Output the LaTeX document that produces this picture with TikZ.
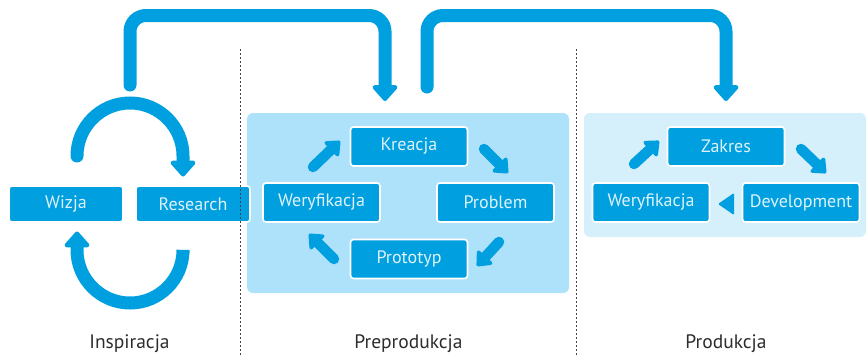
\documentclass[tikz,border=0pt]{standalone}
\usepackage{fontspec}
\setmainfont{PT Sans}
\usetikzlibrary{arrows.meta}
\definecolor{flowblue}{RGB}{0,159,223}
\definecolor{prepanel}{RGB}{174,226,250}
\definecolor{prodpanel}{RGB}{213,239,251}
\definecolor{boxtext}{RGB}{222,243,252}
\definecolor{labeltext}{RGB}{45,45,45}
\definecolor{divider}{RGB}{70,70,70}
\tikzset{
  stage/.style={rectangle, rounded corners=3pt, fill=flowblue, draw=white,
    line width=1.6pt, text=boxtext, font=\fontsize{18}{20}\selectfont,
    inner sep=0pt},
  smallbox/.style={stage, minimum width=114pt, minimum height=36pt},
  bigbox/.style={stage, minimum width=117pt, minimum height=39pt},
  panel/.style={rounded corners=6pt},
  bigflow/.style={draw=flowblue, line width=13pt, line cap=round,
    rounded corners=16pt, -{Triangle[width=29pt,length=17pt,round]}},
  loopflow/.style={draw=flowblue, line width=13pt, line cap=round,
    -{Triangle[width=29pt,length=17pt,round]}},
  stepflow/.style={draw=flowblue, line width=10.5pt, line cap=round,
    -{Triangle[width=23pt,length=14pt,round]}},
  divline/.style={draw=divider, line width=0.8pt, dash pattern=on 1.6pt off 2.4pt},
  phase/.style={text=labeltext, font=\fontsize{19.5}{22}\selectfont, anchor=base},
}
\begin{document}
\begin{tikzpicture}[x=1pt, y=-1pt]
  \useasboundingbox (0,0) rectangle (867,356);

  % phase panels
  \fill[prepanel, panel] (247,113) rectangle (569,293);
  \fill[prodpanel, panel] (584,113) rectangle (866,237);

  % inspiration stage
  \node[smallbox] (wizja) at (66,204) {Wizja};
  \node[smallbox] (research) at (193,204) {Research};

  % preproduction cycle
  \node[bigbox] (kreacja) at (409,146.5) {Kreacja};
  \node[bigbox] (weryf1) at (321.5,202.5) {Weryfikacja};
  \node[bigbox] (problem) at (495.5,202.5) {Problem};
  \node[bigbox] (prototyp) at (409,259) {Prototyp};

  % production cycle
  \node[bigbox] (zakres) at (726,146.5) {Zakres};
  \node[bigbox] (weryf2) at (651,202.5) {Weryfikacja};
  \node[bigbox] (development) at (801,202.5) {Development};

  % dotted phase dividers
  \coordinate (d1top) at (240,49);
  \coordinate (d1bot) at (240,356);
  \coordinate (d2top) at (576,49);
  \coordinate (d2bot) at (576,356);
  \draw[divline] (d1top) -- (d1bot);
  \draw[divline] (d2top) -- (d2bot);

  % loop between vision and research
  \coordinate (loopA) at (77,156);
  \coordinate (loopAend) at (183,176.5);
  \coordinate (loopB) at (183,253);
  \coordinate (loopBend) at (77,231.5);
  \draw[loopflow] (loopA) arc[start angle=180, end angle=0, radius=53pt] -- (loopAend);
  \draw[loopflow] (loopB) -- ++(0,-3) arc[start angle=0, end angle=-180, radius=53pt] -- (loopBend);

  % hand-over arrows between phases
  \coordinate (h1s) at (130,85);
  \coordinate (h1e) at (385,101);
  \coordinate (h2s) at (427,87);
  \coordinate (h2e) at (726,101);
  \draw[bigflow] (h1s) -- (h1s |- 0,15.5) -- (h1e |- 0,15.5) -- (h1e);
  \draw[bigflow] (h2s) -- (h2s |- 0,15.5) -- (h2e |- 0,15.5) -- (h2e);

  % preproduction steps
  \coordinate (p1s) at (313,167);
  \coordinate (p1e) at (340,141);
  \coordinate (p2s) at (484,149);
  \coordinate (p2e) at (508,173);
  \coordinate (p3s) at (499,242);
  \coordinate (p3e) at (477,266);
  \coordinate (p4s) at (334,259);
  \coordinate (p4e) at (309,234);
  \draw[stepflow] (p1s) -- (p1e);
  \draw[stepflow] (p2s) -- (p2e);
  \draw[stepflow] (p3s) -- (p3e);
  \draw[stepflow] (p4s) -- (p4e);

  % production steps
  \coordinate (q1s) at (634,164);
  \coordinate (q1e) at (659,141);
  \coordinate (q2s) at (801,149);
  \coordinate (q2e) at (826,173);
  \draw[stepflow] (q1s) -- (q1e);
  \draw[stepflow] (q2s) -- (q2e);
  \coordinate (t1) at (718,204);
  \coordinate (t2) at (734,193);
  \coordinate (t3) at (734,215);
  \fill[flowblue, rounded corners=1pt] (t1) -- (t2) -- (t3) -- cycle;

  % phase names
  \node[phase] (inspiracja) at (129.5,348) {Inspiracja};
  \node[phase] (preprodukcja) at (408.5,348) {Preprodukcja};
  \node[phase] (produkcja) at (726,348) {Produkcja};
\end{tikzpicture}
\end{document}
